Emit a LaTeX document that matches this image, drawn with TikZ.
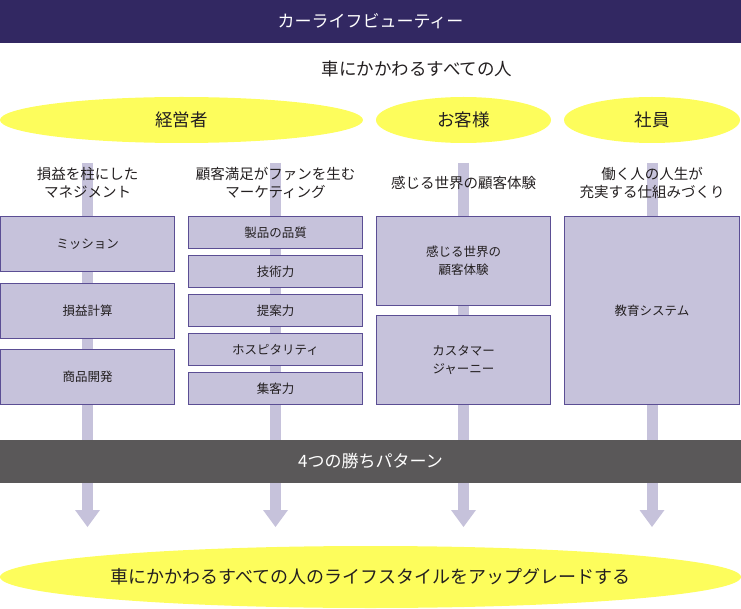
\documentclass[tikz,border=0pt]{standalone}
\usepackage{fontspec}
\setmainfont{Noto Sans CJK JP}
\usetikzlibrary{arrows.meta,shapes.geometric}
\definecolor{barpurple}{HTML}{322862}
\definecolor{bargray}{HTML}{5A5859}
\definecolor{ovalyellow}{HTML}{FDFD5C}
\definecolor{boxfill}{HTML}{C6C2DB}
\definecolor{boxline}{HTML}{5B4E94}
\definecolor{inkgray}{HTML}{231F20}
\begin{document}
\begin{tikzpicture}[x=1pt,y=-1pt,
  every node/.style={inner sep=0pt,text=inkgray},
  band/.style={minimum width=741pt,minimum height=43pt,text=white,font=\fontsize{17}{20}\selectfont},
  oval/.style={ellipse,fill=ovalyellow,minimum height=46pt,font=\fontsize{17.5}{20}\selectfont},
  lead/.style={align=center,font=\fontsize{14.5}{18}\selectfont},
  itembox/.style={draw=boxline,line width=1pt,fill=boxfill,minimum width=174pt,align=center,font=\fontsize{12.5}{18}\selectfont},
  stripe/.style={draw=boxfill,line width=11pt,-{Triangle[width=25pt,length=17pt,line width=0pt]}}]
\useasboundingbox (0,0) rectangle (741,609);
\foreach \n/\x in {1/87.5,2/275.5,3/463.5,4/652}{
  \coordinate (top\n) at (\x,163);
  \coordinate (tip\n) at (\x,527);
  \draw [stripe] (top\n) -- (tip\n);
}
\node [band,fill=barpurple] (title) at (370.5,21.5) {カーライフビューティー};
\node [font=\fontsize{17.5}{20}\selectfont] (people) at (417,69) {車にかかわるすべての人};
\node [oval,minimum width=363pt] (manager) at (181.5,120) {経営者};
\node [oval,minimum width=175pt] (guest) at (463.5,120) {お客様};
\node [oval,minimum width=176pt] (staff) at (652,120) {社員};
\node [lead] (lead1) at (87.5,183) {損益を柱にした\\マネジメント};
\node [lead] (lead2) at (275.5,183) {顧客満足がファンを生む\\マーケティング};
\node [lead] (lead3) at (463.5,183) {感じる世界の顧客体験};
\node [lead] (lead4) at (652,183) {働く人の人生が\\充実する仕組みづくり};
\node [itembox,minimum height=55pt] (mission) at (87.5,244) {ミッション};
\node [itembox,minimum height=55pt] (profit) at (87.5,311) {損益計算};
\node [itembox,minimum height=55pt] (product) at (87.5,377) {商品開発};
\node [itembox,minimum height=32pt] (quality) at (275.5,232.5) {製品の品質};
\node [itembox,minimum height=32pt] (skill) at (275.5,271.5) {技術力};
\node [itembox,minimum height=32pt] (proposal) at (275.5,310.5) {提案力};
\node [itembox,minimum height=32pt] (hospitality) at (275.5,349.5) {ホスピタリティ};
\node [itembox,minimum height=32pt] (attract) at (275.5,388.5) {集客力};
\node [itembox,minimum height=89pt] (experience) at (463.5,261) {感じる世界の\\顧客体験};
\node [itembox,minimum height=89pt] (journey) at (463.5,360) {カスタマー\\ジャーニー};
\node [itembox,minimum height=188pt,minimum width=175pt] (education) at (652,310.5) {教育システム};
\node [band,fill=bargray] (pattern) at (370.5,461.5) {4つの勝ちパターン};
\node [oval,minimum width=741pt,minimum height=62pt,font=\fontsize{18}{20}\selectfont] (goal) at (370.5,577) {車にかかわるすべての人のライフスタイルをアップグレードする};
\end{tikzpicture}
\end{document}
